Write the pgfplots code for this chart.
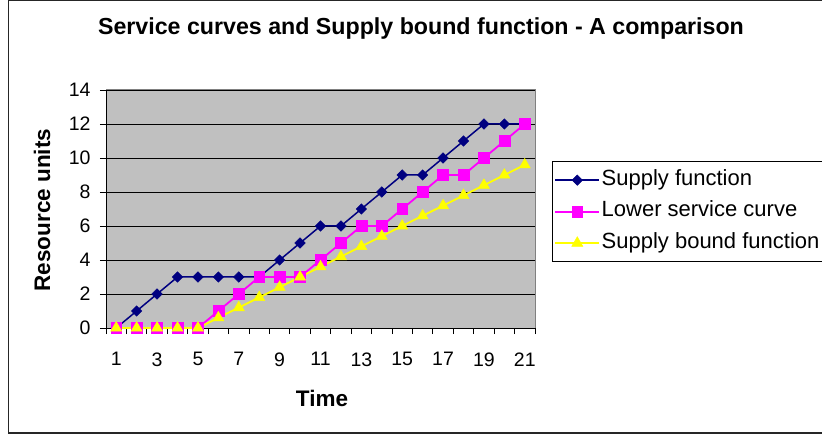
\documentclass[border=0pt]{standalone}
\usepackage{fontspec}
\setmainfont{Liberation Sans}
\usepackage{pgfplots}
\pgfplotsset{compat=1.18}

\definecolor{plotgray}{HTML}{C0C0C0}
\definecolor{supplynavy}{HTML}{000080}
\definecolor{lscmagenta}{HTML}{FF00FF}
\definecolor{sbfyellow}{HTML}{FFFF00}

\newcommand{\ticksize}{\fontsize{19.5}{19.5}\selectfont}
\newcommand{\legendsize}{\fontsize{22}{22}\selectfont}
\newcommand{\labelsize}{\bfseries\fontsize{22.5}{22.5}\selectfont}
\newcommand{\titlesize}{\bfseries\fontsize{23.2}{23.2}\selectfont}

\begin{document}
\begin{tikzpicture}[x=1pt,y=1pt]
\useasboundingbox (0,0) rectangle (822,434);
% chart frame
\draw[line width=1.4pt, black!85] (8.5,1.2) rectangle (860,433.6);

\begin{axis}[
  at={(106pt,106pt)}, anchor=south west,
  scale only axis, width=429pt, height=238pt,
  xmin=0.5, xmax=21.5, ymin=0, ymax=14,
  axis background/.style={fill=plotgray},
  axis x line*=bottom, axis y line*=left,
  axis line style={-, black, line width=0.8pt},
  xtick={1,3,...,21},
  minor xtick={0.5,1.5,...,21.5},
  ytick={0,2,...,14},
  major x tick style={draw=none},
  tick align=outside,
  major tick length=6pt, minor tick length=6pt,
  tick style={black, line width=0.8pt},
  ymajorgrids,
  major grid style={black, line width=0.9pt},
  /pgf/number format/assume math mode=true,
  ticklabel style={font=\ticksize},
  xticklabel style={yshift=-15pt},
  yticklabel style={xshift=-6pt},
  legend style={
    at={(1.0396,0.7017)}, anchor=north west,
    draw=black, line width=0.8pt, fill=white,
    font=\legendsize,
    inner xsep=2pt, inner ysep=7pt,
    row sep=8pt,
    nodes={inner sep=1.5pt, text height=15.5pt, text depth=5pt},
  },
  legend cell align=left,
  legend image code/.code={
    \draw[mark repeat=2, mark phase=2] plot coordinates {(0pt,0pt) (22pt,0pt) (44pt,0pt)};
  },
  after end axis/.code={
    \draw[black!50, line width=1pt] (rel axis cs:0,1) -- (rel axis cs:1,1) -- (rel axis cs:1,0);
  },
]
\addplot[supplynavy, line width=1.5pt, mark=square*, mark size=3.7pt,
  mark options={rotate=45, fill=supplynavy, draw=supplynavy, line width=0.5pt}]
  coordinates {
  (1,0) (2,1) (3,2) (4,3) (5,3) (6,3) (7,3) (8,3) (9,4) (10,5) (11,6)
  (12,6) (13,7) (14,8) (15,9) (16,9) (17,10) (18,11) (19,12) (20,12) (21,12)
  };
\addlegendentry{Supply function}

\addplot[lscmagenta, line width=1.8pt, mark=square*, mark size=5.4pt,
  mark options={fill=lscmagenta, draw=lscmagenta, line width=0.5pt}]
  coordinates {
  (1,0) (2,0) (3,0) (4,0) (5,0) (6,1) (7,2) (8,3) (9,3) (10,3) (11,4)
  (12,5) (13,6) (14,6) (15,7) (16,8) (17,9) (18,9) (19,10) (20,11) (21,12)
  };
\addlegendentry{Lower service curve}

\addplot[sbfyellow, line width=1.8pt, mark=triangle*, mark size=6.4pt,
  mark options={fill=sbfyellow, draw=sbfyellow, line width=0.5pt}]
  coordinates {
  (1,0) (2,0) (3,0) (4,0) (5,0) (6,0.6) (7,1.2) (8,1.8) (9,2.4) (10,3.0) (11,3.6)
  (12,4.2) (13,4.8) (14,5.4) (15,6.0) (16,6.6) (17,7.2) (18,7.8) (19,8.4) (20,9.0) (21,9.6)
  };
\addlegendentry{Supply bound function}
\end{axis}

% titles
\node[font=\titlesize] at (421,405) {Service curves and Supply bound function - A comparison};
\node[font=\labelsize, rotate=90] at (42,224) {Resource units};
\node[font=\labelsize] at (322,36) {Time};
\end{tikzpicture}
\end{document}
